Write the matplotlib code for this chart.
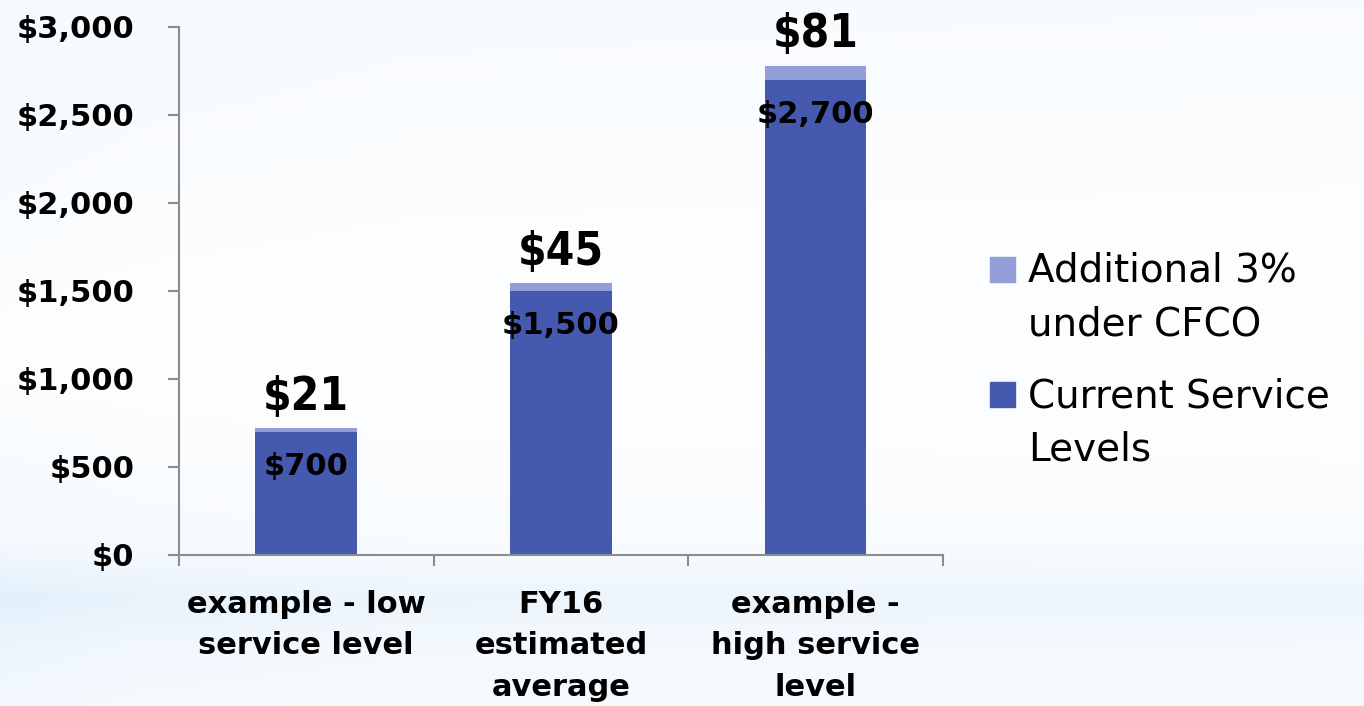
import numpy as np
from matplotlib import pyplot as plt
from matplotlib.patches import Rectangle

# data
categories = ["example - low\nservice level", "FY16\nestimated\naverage", "example -\nhigh service\nlevel"]
current_levels = [700, 1500, 2700]
additional_cfco = [21, 45, 81]
y_ticks = [0, 500, 1000, 1500, 2000, 2500, 3000]
y_tick_labels = ["$0", "$500", "$1,000", "$1,500", "$2,000", "$2,500", "$3,000"]
legend_labels = ["Additional 3%\nunder CFCO", "Current Service\nLevels"]

dark_blue = "#4559ae"
light_blue = "#939dd8"
axis_grey = "#8c8c8c"

fig = plt.figure(figsize=(13.64, 7.06), dpi=100)

# soft blue slide background
bg = fig.add_axes([0, 0, 1, 1], zorder=-10)
rows = np.linspace(0, 1, 300)   # 0 = top, 1 = bottom
cols = np.linspace(0, 1, 400)
vert = np.interp(rows, [0, 0.5, 0.76, 0.85, 0.92, 1.0], [0.07, 0.02, 0.06, 0.20, 0.12, 0.09])
horiz = np.interp(cols, [0, 0.1, 0.3, 1.0], [1.5, 1.2, 1.0, 0.9])
amount = np.clip(vert[:, None] * horiz[None, :], 0, 1)
white = np.array([1.0, 1.0, 1.0])
blue = np.array([0.62, 0.80, 0.95])
img = white[None, None, :] * (1 - amount[..., None]) + blue[None, None, :] * amount[..., None]
bg.imshow(img, aspect="auto", extent=[0, 1, 0, 1])
bg.axis("off")

ax = fig.add_axes([0.1312, 0.2139, 0.56, 0.7479])
ax.patch.set_alpha(0)

x = np.arange(len(categories))
width = 0.4
bars_cur = ax.bar(x, current_levels, width=width, color=dark_blue)
bars_add = ax.bar(x, additional_cfco, width=width, bottom=current_levels, color=light_blue)

# labels inside and above bars
for xi, cur, add in zip(x, current_levels, additional_cfco):
    ax.annotate(f"${cur:,}", (xi, cur), xytext=(0, -25), textcoords="offset points",
                ha="center", va="center", fontsize=22, fontweight="bold")
    ax.annotate(f"${add}", (xi, cur + add), xytext=(0, 6), textcoords="offset points",
                ha="center", va="bottom", fontsize=33, fontweight="bold", fontstretch="condensed")

ax.set_xlim(-0.5, 2.5)
ax.set_ylim(0, 3000)
ax.set_yticks(y_ticks)
ax.set_yticklabels(y_tick_labels, fontsize=22, fontweight="bold")
ax.set_xticks(x)
ax.set_xticklabels(categories, fontsize=22, fontweight="bold", linespacing=1.55, va="top")
ax.set_xticks(np.arange(-0.5, 3, 1), minor=True)
ax.tick_params(axis="x", which="major", length=0, pad=25)
ax.tick_params(axis="x", which="minor", length=8, color=axis_grey, width=1.5, direction="out")
ax.tick_params(axis="y", length=8, color=axis_grey, width=1.5, pad=24)

for side in ["top", "right"]:
    ax.spines[side].set_visible(False)
for side in ["left", "bottom"]:
    ax.spines[side].set_color(axis_grey)
    ax.spines[side].set_linewidth(1.5)

# legend: square marker next to the first line of each label
W, H = 1364, 706
legend_colors = [light_blue, dark_blue]
legend_rows = [270, 395]   # pixel row of first text line
for lab, col, row in zip(legend_labels, legend_colors, legend_rows):
    fig.add_artist(Rectangle((990 / W, 1 - (row + 12) / H), 25 / W, 25 / H,
                             transform=fig.transFigure, color=col))
    fig.text(1028 / W, 1 - (row - 18) / H, lab, fontsize=28, va="top", ha="left",
             linespacing=1.5)

fig.savefig("out.png", dpi=100)
